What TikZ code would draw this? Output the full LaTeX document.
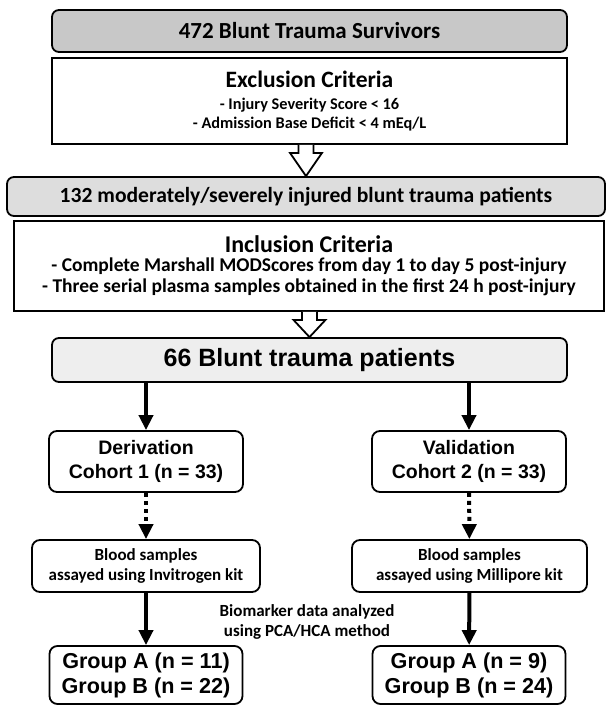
\documentclass[tikz,border=0pt]{standalone}
\usepackage{fontspec}
\setmainfont{Carlito}
\newfontfamily\arialfont{Liberation Sans}
\usepackage{xcolor}
\usepackage{tikz}
\usetikzlibrary{arrows.meta, positioning, calc}
\definecolor{headgray}{RGB}{200,200,200}
\definecolor{midgray}{RGB}{221,221,221}
\definecolor{lightgray}{RGB}{238,238,238}
\tikzset{
  headbox/.style={rectangle, draw, line width=1.8pt, rounded corners=7pt, minimum width=515pt, minimum height=42pt, inner sep=0pt, font=\bfseries\fontsize{23}{25}\selectfont},
  critbox/.style={rectangle, draw, line width=1.8pt, fill=white, inner sep=0pt, align=center, font=\bfseries\fontsize{16.3}{19}\selectfont},
  cohortbox/.style={rectangle, draw, line width=1.8pt, rounded corners=8pt, minimum width=194pt, minimum height=61pt, inner sep=0pt, align=center, font=\arialfont\bfseries\fontsize{19.5}{24}\selectfont},
  assaybox/.style={rectangle, draw, line width=1.8pt, rounded corners=8pt, minimum height=52pt, inner sep=0pt, align=center, font=\bfseries\fontsize{17}{20}\selectfont},
  groupbox/.style={rectangle, draw, line width=1.8pt, rounded corners=8pt, minimum width=193pt, minimum height=58pt, inner sep=0pt, align=center, font=\arialfont\bfseries\fontsize{21.6}{25}\selectfont},
  arrow/.style={-{Triangle[length=15pt, width=14pt]}, line width=4pt},
  darrow/.style={arrow, dash pattern=on 4pt off 4pt},
  hollow/.style={draw, line width=1.8pt, fill=white, line join=miter},
}
\begin{document}
\begin{tikzpicture}[x=1pt, y=-1pt]
  \useasboundingbox (0,0) rectangle (607,706);

  % Screening
  \node[headbox, fill=headgray] (survivors) at (309.5,31) {472 Blunt Trauma Survivors};
  \node[critbox, minimum width=515pt, minimum height=86pt] (exclusion) at (309.5,101)
    {{\fontsize{23.5}{25}\selectfont Exclusion Criteria}\\[3pt]
     - Injury Severity Score < 16\\
     - Admission Base Deficit < 4 mEq/L};
  \node[headbox, fill=midgray, minimum width=598pt, minimum height=39pt, font=\bfseries\fontsize{21.6}{23}\selectfont] (injured) at (306,196.5)
    {132 moderately/severely injured blunt trauma patients};
  \node[critbox, minimum width=590pt, minimum height=90pt, font=\bfseries\fontsize{19.5}{21}\selectfont] (inclusion) at (309,266)
    {{\fontsize{24}{26}\selectfont Inclusion Criteria}\\[-2pt]
     - Complete Marshall MODScores from day 1 to day 5 post-injury\\
     - Three serial plasma samples obtained in the first 24 h post-injury};
  \node[headbox, fill=lightgray, minimum height=44pt, font=\arialfont\bfseries\fontsize{25}{28}\selectfont] (patients) at (309.5,360)
    {66 Blunt trauma patients};

  % Hollow arrows
  \draw[hollow] ($(exclusion.south -| injured.north)+(-7.5,0)$) -- ++(0,8) -- ++(-8.5,0) -- (injured.north)
    -- ($(exclusion.south -| injured.north)+(16,8)$) -- ++(-8.5,0) -- ++(0,-8);
  \draw[hollow] ($(inclusion.south -| patients.north)+(-7.5,0)$) -- ++(0,8) -- ++(-8.5,0) -- (patients.north)
    -- ($(inclusion.south -| patients.north)+(16,8)$) -- ++(-8.5,0) -- ++(0,-8);

  % Cohorts
  \node[cohortbox] (derivation) at (146,461.5) {Derivation\\Cohort 1 (n = 33)};
  \node[cohortbox] (validation) at (469,461.5) {Validation\\Cohort 2 (n = 33)};

  % Assays
  \node[assaybox, minimum width=228pt] (invitrogen) at (146,566) {Blood samples\\assayed using Invitrogen kit};
  \node[assaybox, minimum width=235pt] (millipore) at (469.5,566) {Blood samples\\assayed using Millipore kit};

  % Groups
  \node[groupbox] (groupsL) at (146,675) {Group A (n = 11)\\Group B (n = 22)};
  \node[groupbox] (groupsR) at (469,675) {Group A (n = 9)\\Group B (n = 24)};
  \node[align=center, font=\bfseries\fontsize{17}{20}\selectfont] (pcahca) at (307,622)
    {Biomarker data analyzed\\using PCA/HCA method};

  % Connections
  \draw[arrow] (patients.south -| derivation.north) -- (derivation.north);
  \draw[arrow] (patients.south -| validation.north) -- (validation.north);
  \draw[darrow] (derivation) -- (invitrogen);
  \draw[darrow] (validation) -- (millipore);
  \draw[arrow] (invitrogen) -- (groupsL);
  \draw[arrow] (millipore) -- (groupsR);
\end{tikzpicture}
\end{document}
